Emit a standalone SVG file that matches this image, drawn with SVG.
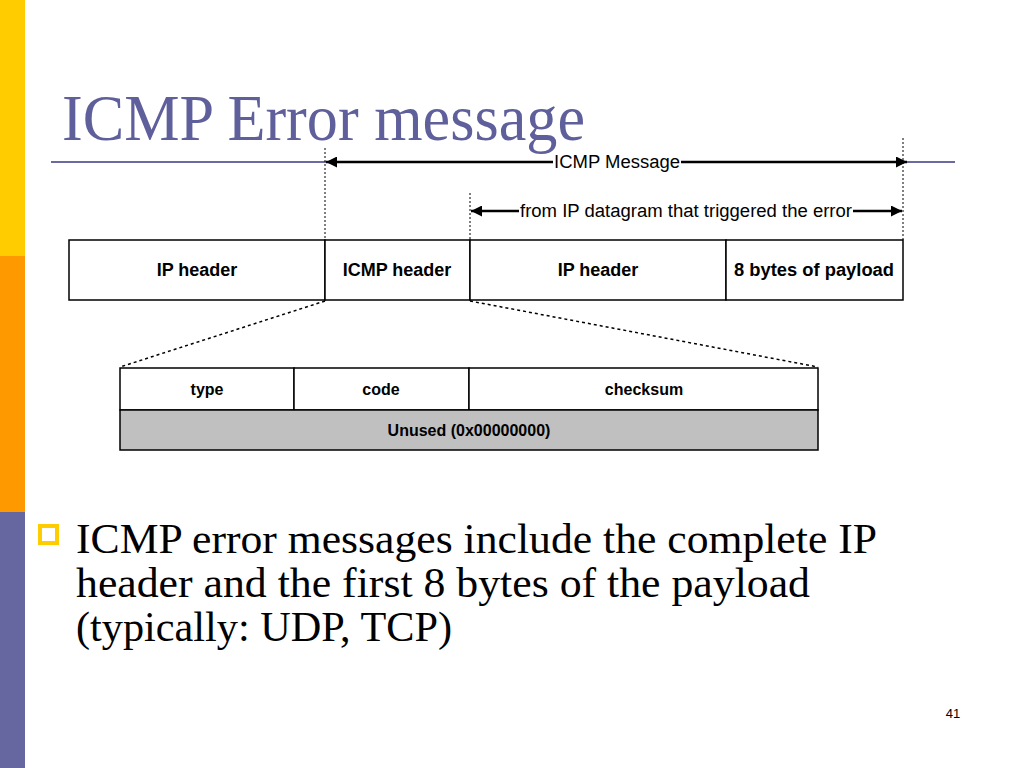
<svg xmlns="http://www.w3.org/2000/svg" width="1024" height="768" viewBox="0 0 1024 768">
<defs>
<marker id="ah" viewBox="0 0 10 10" refX="10" refY="5" markerWidth="11" markerHeight="11" markerUnits="userSpaceOnUse" orient="auto-start-reverse">
<path d="M0,0 L10,5 L0,10 z" fill="#000"/>
</marker>
<style>
.cell{fill:#fff;stroke:#000;stroke-width:1.5}
.lbl{font-family:"Liberation Sans",Arial,sans-serif;font-weight:bold;font-size:18px;text-anchor:middle;fill:#000}
.sm{font-size:16px}
.dim{font-family:"Liberation Sans",Arial,sans-serif;font-size:18px;text-anchor:middle;fill:#000}
.dot{stroke:#000;stroke-width:1;stroke-dasharray:2,2;fill:none}
.dash{stroke:#000;stroke-width:1.5;stroke-dasharray:3,3;fill:none}
.arr{stroke:#000;stroke-width:2.5;fill:none}
.body{font-family:"Liberation Serif","Times New Roman",serif;font-size:42px;fill:#000}
</style>
</defs>
<rect width="1024" height="768" fill="#fff"/>
<rect x="0" y="0" width="25" height="256" fill="#ffcc00"/>
<rect x="0" y="256" width="25" height="256" fill="#ff9900"/>
<rect x="0" y="512" width="25" height="256" fill="#6666a0"/>
<text x="62" y="140" font-family="'Liberation Serif','Times New Roman',serif" font-size="66" fill="#5f5f9c" textLength="523" lengthAdjust="spacingAndGlyphs">ICMP Error message</text>
<line x1="51" y1="162" x2="326" y2="162" stroke="#6a6aa0" stroke-width="2"/>
<line x1="903" y1="162" x2="955" y2="162" stroke="#6a6aa0" stroke-width="2"/>
<g id="connectors">
<line class="dot" x1="325" y1="148" x2="325" y2="240"/>
<line class="dot" x1="470" y1="193" x2="470" y2="240"/>
<line class="dot" x1="903" y1="138" x2="903" y2="240"/>
<line class="arr" x1="326" y1="162" x2="553" y2="162" marker-start="url(#ah)"/>
<line class="arr" x1="681" y1="162" x2="907" y2="162" marker-end="url(#ah)"/>
<text class="dim" x="617" y="168" textLength="126" lengthAdjust="spacingAndGlyphs">ICMP Message</text>
<line class="arr" x1="471" y1="211" x2="519" y2="211" marker-start="url(#ah)"/>
<line class="arr" x1="853" y1="211" x2="902" y2="211" marker-end="url(#ah)"/>
<text class="dim" x="686" y="217" textLength="332" lengthAdjust="spacingAndGlyphs">from IP datagram that triggered the error</text>
<line class="dash" x1="325" y1="301" x2="120" y2="367"/>
<line class="dash" x1="470" y1="301" x2="818" y2="367"/>
</g>
<g id="ip-header">
<rect class="cell" x="69" y="240" width="256" height="60"/>
<text class="lbl" x="197" y="276">IP header</text>
</g>
<g id="icmp-header">
<rect class="cell" x="325" y="240" width="145" height="60"/>
<text class="lbl" x="397" y="276">ICMP header</text>
</g>
<g id="ip-header-2">
<rect class="cell" x="470" y="240" width="256" height="60"/>
<text class="lbl" x="598" y="276">IP header</text>
</g>
<g id="payload">
<rect class="cell" x="726" y="240" width="177" height="60"/>
<text class="lbl" x="814" y="276" textLength="160" lengthAdjust="spacingAndGlyphs">8 bytes of payload</text>
</g>
<g id="type">
<rect class="cell" x="120" y="368" width="174" height="42"/>
<text class="lbl sm" x="207" y="395">type</text>
</g>
<g id="code">
<rect class="cell" x="294" y="368" width="175" height="42"/>
<text class="lbl sm" x="381" y="395">code</text>
</g>
<g id="checksum">
<rect class="cell" x="469" y="368" width="349" height="42"/>
<text class="lbl sm" x="644" y="395">checksum</text>
</g>
<g id="unused">
<rect x="120" y="410" width="698" height="40" fill="#c0c0c0" stroke="#000" stroke-width="1.5"/>
<text class="lbl sm" x="469" y="436">Unused (0x00000000)</text>
</g>
<rect x="40" y="526" width="17" height="17" fill="#fff" stroke="#ffcc00" stroke-width="4"/>
<text class="body" x="76" y="553" textLength="801" lengthAdjust="spacingAndGlyphs">ICMP error messages include the complete IP</text>
<text class="body" x="76" y="597" textLength="734" lengthAdjust="spacingAndGlyphs">header and the first 8 bytes of the payload</text>
<text class="body" x="76" y="641" textLength="376" lengthAdjust="spacingAndGlyphs">(typically: UDP, TCP)</text>
<text x="953" y="718" font-family="'Liberation Sans',Arial,sans-serif" font-size="13" text-anchor="middle" fill="#000">41</text>
</svg>
